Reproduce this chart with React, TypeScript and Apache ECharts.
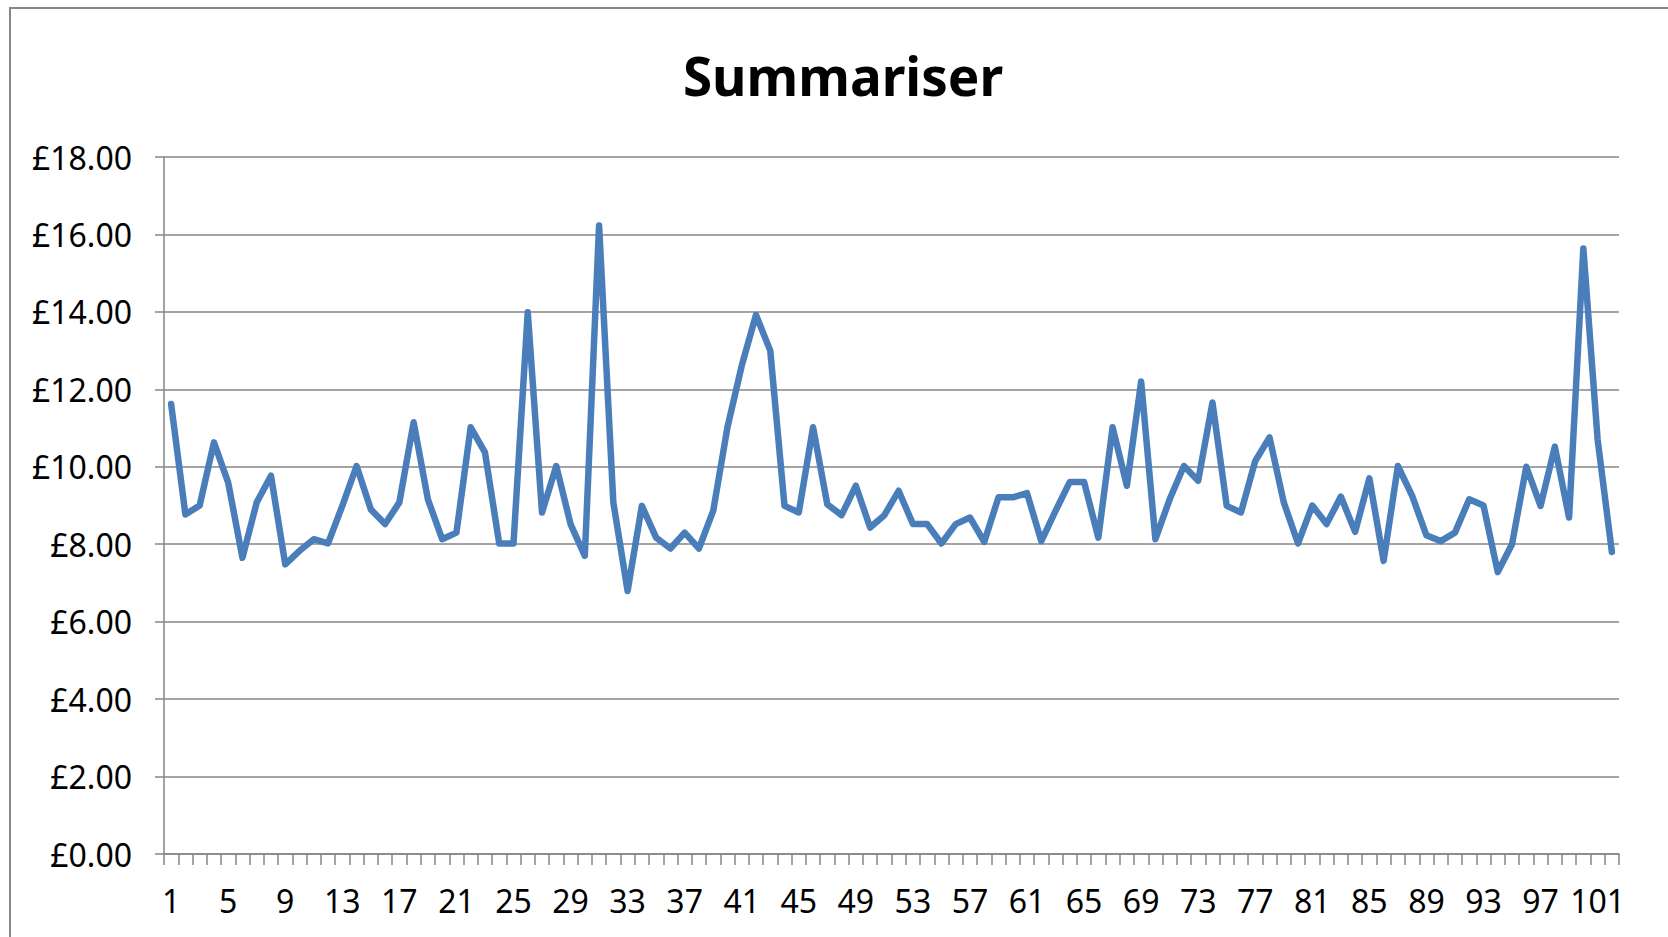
import React, { useEffect, useRef } from "react";
import * as echarts from "echarts";

const TITLE = "Summariser";

const CATEGORIES = [
  "1", "2", "3", "4", "5", "6", "7", "8", "9", "10",
  "11", "12", "13", "14", "15", "16", "17", "18", "19", "20",
  "21", "22", "23", "24", "25", "26", "27", "28", "29", "30",
  "31", "32", "33", "34", "35", "36", "37", "38", "39", "40",
  "41", "42", "43", "44", "45", "46", "47", "48", "49", "50",
  "51", "52", "53", "54", "55", "56", "57", "58", "59", "60",
  "61", "62", "63", "64", "65", "66", "67", "68", "69", "70",
  "71", "72", "73", "74", "75", "76", "77", "78", "79", "80",
  "81", "82", "83", "84", "85", "86", "87", "88", "89", "90",
  "91", "92", "93", "94", "95", "96", "97", "98", "99", "100",
  "101", "102",
];

const VALUES = [
  11.62, 8.77, 9.0, 10.63, 9.59, 7.65, 9.08, 9.77, 7.48, 7.83,
  8.13, 8.02, 8.99, 10.02, 8.9, 8.52, 9.08, 11.15, 9.16, 8.13,
  8.3, 11.02, 10.37, 8.02, 8.02, 13.99, 8.82, 10.02, 8.52, 7.7,
  16.23, 9.08, 6.79, 8.99, 8.17, 7.89, 8.3, 7.89, 8.86, 11.02,
  12.61, 13.92, 13.0, 8.99, 8.82, 11.02, 9.03, 8.75, 9.51, 8.43,
  8.75, 9.38, 8.52, 8.52, 8.02, 8.52, 8.69, 8.06, 9.21, 9.21,
  9.32, 8.08, 8.86, 9.61, 9.61, 8.17, 11.02, 9.51, 12.2, 8.13,
  9.16, 10.02, 9.64, 11.66, 8.99, 8.82, 10.15, 10.76, 9.08, 8.02,
  9.0, 8.52, 9.23, 8.32, 9.7, 7.57, 10.02, 9.25, 8.23, 8.08,
  8.3, 9.16, 9.0, 7.28, 8.0, 10.0, 8.99, 10.52, 8.69, 15.64,
  10.71, 7.8,
];

const Y_MIN = 0;
const Y_MAX = 18;
const Y_STEP = 2;

const FONT = "'Noto Sans', 'DejaVu Sans', sans-serif";

export default function App() {
  const ref = useRef<HTMLDivElement>(null);

  useEffect(() => {
    if (!ref.current) return;
    const chart = echarts.init(ref.current, null, { renderer: "svg" });
    chart.setOption({
      animation: false,
      backgroundColor: "#ffffff",
      title: {
        text: TITLE,
        left: 838,
        textAlign: "center",
        top: 44,
        textStyle: {
          fontFamily: FONT,
          fontWeight: "bold",
          fontSize: 53,
          color: "#000000",
        },
      },
      graphic: [
        {
          type: "rect",
          shape: { x: 10, y: 8, width: 1700, height: 1000 },
          style: { fill: "none", stroke: "#878787", lineWidth: 2 },
          silent: true,
        },
      ],
      grid: {
        left: 164,
        right: 49,
        top: 157,
        bottom: 83,
        containLabel: false,
      },
      xAxis: {
        type: "category",
        data: CATEGORIES,
        boundaryGap: true,
        axisLine: { show: true, lineStyle: { color: "#868686", width: 1.5 } },
        axisTick: {
          show: true,
          interval: 0,
          alignWithLabel: false,
          length: 11,
          lineStyle: { color: "#868686", width: 1.5 },
        },
        axisLabel: {
          interval: 3,
          margin: 30,
          fontFamily: FONT,
          fontSize: 32,
          color: "#000000",
        },
        splitLine: { show: false },
      },
      yAxis: {
        type: "value",
        min: Y_MIN,
        max: Y_MAX,
        interval: Y_STEP,
        axisLine: { show: true, lineStyle: { color: "#868686", width: 1.5 } },
        axisTick: {
          show: true,
          inside: false,
          length: 9,
          lineStyle: { color: "#868686", width: 1.5 },
        },
        axisLabel: {
          margin: 32,
          fontFamily: FONT,
          fontSize: 32,
          color: "#000000",
          formatter: (v: number) => "£" + v.toFixed(2),
        },
        splitLine: { show: true, lineStyle: { color: "#868686", width: 1.5 } },
      },
      series: [
        {
          type: "line",
          data: VALUES,
          showSymbol: false,
          symbol: "none",
          smooth: false,
          lineStyle: { color: "#4A7EBB", width: 6.5, join: "round", cap: "round" },
          itemStyle: { color: "#4A7EBB" },
        },
      ],
    });
    return () => chart.dispose();
  }, []);

  return (
    <div
      ref={ref}
      style={{ position: "absolute", left: 0, top: 0, width: 1668, height: 937 }}
    />
  );
}
